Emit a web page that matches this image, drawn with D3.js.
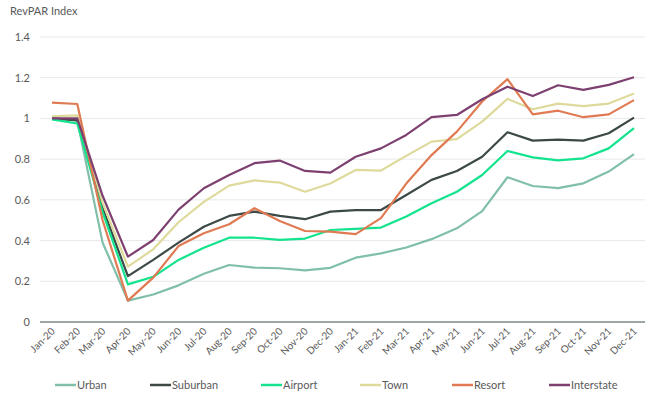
<!DOCTYPE html>
<html><head><meta charset="utf-8">
<script src="https://cdn.jsdelivr.net/npm/d3@7"></script>
<style>body{margin:0;background:#fff;}svg{display:block;font-family:Lato,"Open Sans",sans-serif;}</style>
</head><body><svg id="c" width="651" height="398"></svg>
<script>
const months = ["Jan-20","Feb-20","Mar-20","Apr-20","May-20","Jun-20","Jul-20","Aug-20","Sep-20","Oct-20","Nov-20","Dec-20","Jan-21","Feb-21","Mar-21","Apr-21","May-21","Jun-21","Jul-21","Aug-21","Sep-21","Oct-21","Nov-21","Dec-21"];
const yTicks = [0,0.2,0.4,0.6,0.8,1,1.2,1.4];
const seriesNames = ["Urban","Suburban","Airport","Town","Resort","Interstate"];
const seriesColors = ["#80BFA9","#3C4947","#12E38D","#DEDA9C","#E07A52","#7D4070"];
const urban =      [1.00,0.99,0.39,0.105,0.135,0.18,0.237,0.28,0.267,0.264,0.254,0.266,0.316,0.337,0.366,0.407,0.46,0.545,0.711,0.668,0.658,0.681,0.739,0.825];
const suburban =   [1.00,0.99,0.56,0.225,0.305,0.39,0.468,0.521,0.542,0.521,0.505,0.542,0.55,0.55,0.624,0.698,0.742,0.812,0.932,0.891,0.896,0.891,0.927,1.004];
const airport =    [0.995,0.975,0.54,0.185,0.222,0.305,0.365,0.414,0.414,0.403,0.41,0.452,0.457,0.464,0.518,0.583,0.64,0.722,0.84,0.809,0.794,0.804,0.853,0.952];
const town =       [1.01,1.015,0.585,0.272,0.357,0.49,0.59,0.67,0.696,0.685,0.64,0.68,0.747,0.744,0.816,0.886,0.898,0.984,1.096,1.045,1.073,1.06,1.073,1.122];
const resort =     [1.078,1.071,0.5,0.105,0.218,0.373,0.436,0.48,0.559,0.496,0.447,0.444,0.432,0.51,0.68,0.82,0.935,1.083,1.193,1.02,1.038,1.006,1.02,1.09];
const interstate = [1.00,1.00,0.62,0.321,0.403,0.552,0.657,0.722,0.78,0.793,0.742,0.734,0.812,0.853,0.919,1.006,1.017,1.094,1.156,1.11,1.163,1.14,1.165,1.202];
const seriesValues = [urban,suburban,airport,town,resort,interstate];

const svg = d3.select("#c");
const x = d3.scalePoint().domain(months).range([52,634]);
const y = d3.scaleLinear().domain([0,1.4]).range([322,37]);
const txt = "#595959";

svg.append("text").attr("x",10).attr("y",15).attr("fill",txt).attr("font-size",11).text("RevPAR Index");

// gridlines
svg.append("g").selectAll("line").data(yTicks.filter(d=>d>0)).join("line")
  .attr("x1",40).attr("x2",645).attr("y1",d=>y(d)).attr("y2",d=>y(d))
  .attr("stroke","#e9e9e9").attr("stroke-width",1);

// y axis labels
const ya = svg.append("g").attr("transform","translate(30,0)")
  .call(d3.axisLeft(y).tickValues(yTicks).tickSize(0).tickPadding(0).tickFormat(d=>d3.format("~g")(d)));
ya.select(".domain").remove();
ya.selectAll("text").attr("fill",txt).attr("font-size",11).attr("font-family","Lato,'Open Sans',sans-serif");

// x axis
const xa = svg.append("g").attr("transform","translate(0,322)")
  .call(d3.axisBottom(x).tickSize(0).tickPadding(0));
xa.select(".domain").remove();
svg.append("line").attr("x1",40).attr("x2",645).attr("y1",322).attr("y2",322).attr("stroke","#7f8a86").attr("stroke-width",1.3);
xa.selectAll("text").attr("fill",txt).attr("font-size",10).attr("font-family","Lato,'Open Sans',sans-serif")
  .attr("text-anchor","end").attr("dy",0).attr("y",0)
  .attr("transform","translate(3,10) rotate(-45)");

// lines
const line = d3.line().x((d,i)=>x(months[i])).y(d=>y(d));
svg.append("g").selectAll("path").data(seriesValues).join("path")
  .attr("d",line).attr("fill","none")
  .attr("stroke",(d,i)=>seriesColors[i]).attr("stroke-width",2.2).attr("stroke-linejoin","round");

// legend
const legX = [55,150,261,360,452,549];
const lg = svg.append("g").selectAll("g").data(seriesNames).join("g")
  .attr("transform",(d,i)=>`translate(${legX[i]},385)`);
lg.append("line").attr("x1",0).attr("x2",21).attr("y1",0).attr("y2",0)
  .attr("stroke",(d,i)=>seriesColors[i]).attr("stroke-width",2.5);
lg.append("text").attr("x",22).attr("y",4).attr("fill",txt).attr("font-size",11).text(d=>d);
</script></body></html>
